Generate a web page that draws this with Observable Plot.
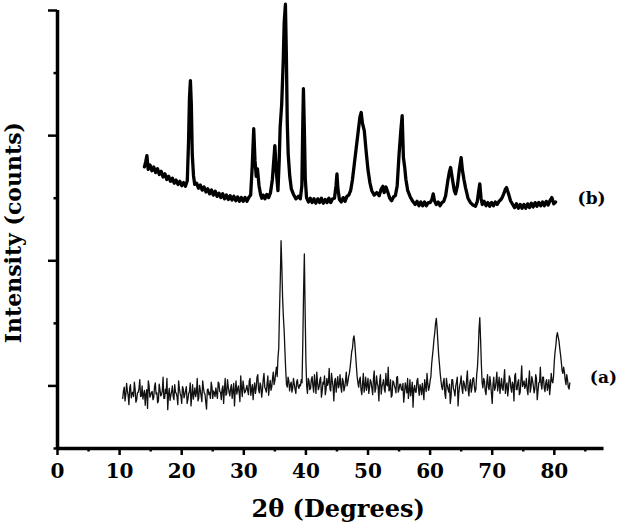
<!DOCTYPE html>
<html><head><meta charset="utf-8">
<script src="https://cdn.jsdelivr.net/npm/d3@7"></script>
<script src="https://cdn.jsdelivr.net/npm/@observablehq/plot@0.6"></script>
<style>body{margin:0;background:#fff}</style>
</head><body><div id="chart"></div>
<script>
// ---- data ----
const xMajorTicks = [0, 10, 20, 30, 40, 50, 60, 70, 80];
const xMinorTicks = [5, 15, 25, 35, 45, 55, 65, 75, 85];
const yMajorTicks = [1, 3, 5, 7];
const yMinorTicks = [0, 2, 4, 6];
const xTitle = "2θ (Degrees)";
const yTitle = "Intensity (counts)";

// trace (a): readings every 0.25° from 10.5°
const traceAStart = 10.5;
const traceAStep = 0.25;
const traceAValues = [
  0.80,0.98,0.86,0.92,0.70,1.02,0.88,0.83,0.95,0.78,0.90,1.10,0.84,0.79,0.93,0.87,0.64,1.00,0.85,0.91,
  0.82,1.05,0.89,0.76,0.94,0.86,1.14,0.80,0.88,0.62,0.96,0.85,1.00,0.78,0.90,0.83,1.08,0.88,0.72,0.95,
  0.86,0.99,0.79,0.91,0.68,1.02,0.88,0.83,1.12,0.81,0.93,0.75,0.97,0.87,0.63,0.95,0.90,1.06,0.80,0.89,
  0.97,0.80,1.04,0.90,0.95,0.72,1.12,0.88,0.98,0.84,1.02,0.92,0.68,1.08,0.94,0.89,1.16,0.83,0.99,0.91,
  1.01,0.86,1.12,0.94,0.78,1.05,0.97,1.18,0.89,1.00,0.93,1.20,0.95,1.04,0.85,1.09,0.98,1.22,1.08,1.30,
  1.45,2.20,3.32,2.40,1.88,1.25,0.98,1.08,1.02,0.90,1.12,0.95,1.06,0.99,1.02,1.10,1.70,3.11,1.40,0.88,
  1.08,0.96,1.15,0.90,1.04,1.22,0.94,1.10,0.82,1.06,1.16,0.95,1.01,1.28,0.92,1.08,0.76,1.12,1.03,0.97,
  1.18,0.90,1.08,0.98,1.22,1.06,1.20,1.42,1.60,1.80,1.50,1.15,0.98,1.14,0.86,1.20,1.00,0.93,1.12,0.98,
  1.06,0.86,1.24,0.96,1.04,0.76,1.18,0.99,1.10,0.90,1.02,1.30,0.94,0.82,1.08,1.00,0.89,1.15,0.95,1.03,
  0.93,0.74,1.05,0.89,0.80,1.10,0.94,0.66,1.01,0.90,1.12,0.85,0.97,1.04,0.78,1.00,1.20,0.93,1.08,1.35,
  1.60,1.85,2.08,1.70,1.35,1.08,0.94,1.12,0.80,1.02,0.90,0.72,1.10,0.96,0.84,1.06,0.68,1.00,1.16,0.88,
  1.04,0.92,1.24,0.84,1.10,0.98,1.13,0.90,1.18,1.55,2.09,1.35,0.97,1.08,0.86,1.18,0.94,1.04,0.72,1.14,
  0.97,1.22,1.02,0.88,1.12,0.93,1.26,1.00,0.84,1.16,0.97,1.06,0.76,1.20,0.94,1.10,0.90,1.32,1.03,0.96,
  1.12,0.86,1.24,0.98,1.08,0.89,1.18,0.78,1.05,1.30,0.95,1.14,0.91,1.10,1.00,0.86,1.20,1.05,1.40,1.65,
  1.85,1.72,1.50,1.25,1.30,1.10,1.18,0.98,1.05
];
// trace (a): readings halfway between, every 0.25° from 10.625°
const traceAMidStart = 10.625;
const traceAMidValues = [
  0.92,0.76,1.04,0.85,0.97,0.81,0.90,1.06,0.74,0.89,0.96,0.83,1.00,0.87,0.69,0.94,1.08,0.82,0.90,0.78,
  0.99,0.87,0.73,1.03,0.84,0.92,0.80,0.95,1.12,0.86,0.77,0.91,0.83,1.02,0.88,0.70,0.96,0.84,0.99,0.81,
  0.93,0.72,0.88,1.05,0.85,0.79,0.97,0.90,0.76,1.01,0.84,1.08,0.89,0.74,0.94,0.86,0.80,0.98,0.92,0.83,
  0.88,1.06,0.91,0.78,1.00,0.94,0.85,1.10,0.90,0.96,0.80,1.04,0.93,0.87,1.00,0.75,0.97,1.08,0.89,0.95,
  0.92,1.08,0.85,1.02,0.96,0.88,1.14,0.94,1.05,0.82,1.10,0.98,0.90,1.16,0.99,0.93,1.12,1.02,1.20,1.15,
  1.60,2.70,2.90,2.10,1.55,1.02,1.14,0.92,1.06,0.97,1.03,0.88,1.10,0.96,1.00,1.05,2.50,2.20,1.00,1.12,
  0.94,1.10,1.00,1.18,0.88,1.05,0.98,1.14,0.92,1.03,0.86,1.12,1.06,0.95,1.20,0.99,1.08,0.90,1.15,1.02,
  0.98,1.12,0.92,1.08,1.00,1.15,1.30,1.55,1.75,1.68,1.32,1.05,1.10,0.94,1.04,0.90,1.14,1.02,0.88,1.10,
  0.96,1.12,0.90,1.16,0.99,1.08,0.87,1.04,0.95,1.20,1.00,0.92,1.10,0.85,1.06,0.96,1.14,0.90,1.03,0.94,
  1.04,0.88,0.98,1.12,0.92,0.84,1.06,0.95,0.90,1.08,0.96,1.02,0.86,0.93,1.10,0.91,1.04,0.98,1.15,1.48,
  1.75,2.00,1.92,1.50,1.20,0.98,1.06,0.88,1.12,0.95,1.03,0.84,1.10,0.92,1.00,1.14,0.89,1.05,0.96,1.08,
  0.96,1.10,0.94,1.04,0.90,1.12,1.00,0.95,1.30,1.90,1.75,1.05,1.12,0.92,1.06,0.98,1.15,0.88,1.02,0.93,
  1.08,0.92,1.14,1.00,0.96,1.10,0.88,1.05,0.97,1.12,0.90,1.02,1.16,0.94,1.06,0.86,1.10,0.99,1.08,1.00,
  0.94,1.08,0.90,1.15,1.00,0.96,1.12,0.92,1.06,1.02,1.14,0.97,1.05,0.93,1.10,0.99,1.08,1.15,1.55,1.80,
  1.78,1.60,1.38,1.20,1.22,1.02,1.10,0.95
];

// trace (b): [2θ, intensity]
const traceB = [
  [14.0,4.50],[14.2,4.58],[14.4,4.68],[14.6,4.46],[14.9,4.53],[15.2,4.44],[15.5,4.50],[15.8,4.41],[16.1,4.47],[16.4,4.38],
  [16.7,4.43],[17.0,4.34],[17.3,4.39],[17.6,4.30],[17.9,4.35],[18.2,4.27],[18.5,4.32],[18.8,4.24],[19.1,4.29],[19.4,4.22],
  [19.7,4.27],[20.0,4.20],[20.3,4.25],[20.6,4.19],[20.9,4.28],[21.1,4.9],[21.25,5.6],[21.4,5.88],[21.55,5.5],[21.7,4.7],
  [21.9,4.36],[22.1,4.22],[22.4,4.24],[22.7,4.16],[23.0,4.21],[23.3,4.13],[23.6,4.18],[23.9,4.10],[24.2,4.15],[24.5,4.07],
  [24.8,4.13],[25.1,4.05],[25.4,4.11],[25.7,4.03],[26.0,4.08],[26.3,4.01],[26.6,4.07],[26.9,3.99],[27.2,4.05],[27.5,3.98],
  [27.8,4.04],[28.1,3.97],[28.4,4.03],[28.7,3.96],[29.0,4.02],[29.3,3.95],[29.6,4.01],[29.9,3.95],[30.2,4.01],[30.5,3.95],
  [30.8,4.01],[31.1,4.05],[31.35,4.5],[31.6,5.11],[31.8,4.6],[32.0,4.35],[32.2,4.47],[32.45,4.2],[32.7,4.06],[32.9,4.00],
  [33.1,4.05],[33.4,3.99],[33.7,4.06],[34.0,4.01],[34.3,4.09],[34.6,4.3],[35.0,4.84],[35.25,4.4],[35.5,4.12],[35.7,4.6],
  [35.85,5.13],[36.1,5.5],[36.35,6.2],[36.5,6.8],[36.7,7.1],[36.85,6.3],[37.0,5.2],[37.15,4.7],[37.4,4.35],[37.65,4.15],
  [38.0,4.06],[38.4,3.99],[38.8,4.03],[39.1,3.99],[39.35,4.2],[39.5,5.2],[39.6,5.75],[39.75,5.1],[39.9,4.3],[40.1,4.01],
  [40.4,3.94],[40.7,4.00],[41.0,3.93],[41.3,3.99],[41.6,3.92],[41.9,3.99],[42.2,3.93],[42.5,4.00],[42.8,3.92],[43.1,3.98],
  [43.4,3.93],[43.7,4.00],[44.0,3.93],[44.3,3.99],[44.6,4.00],[44.85,4.2],[45.0,4.39],[45.15,4.15],[45.4,3.98],[45.7,3.94],
  [46.0,4.01],[46.3,3.95],[46.6,4.03],[46.9,4.05],[47.2,4.12],[47.5,4.3],[47.8,4.55],[48.1,4.8],[48.4,5.05],[48.7,5.3],
  [48.9,5.37],[49.1,5.2],[49.4,5.08],[49.7,4.75],[50.0,4.45],[50.3,4.25],[50.6,4.12],[51.0,4.05],[51.4,4.09],[51.8,4.04],
  [52.1,4.14],[52.4,4.19],[52.6,4.09],[52.9,4.18],[53.2,4.09],[53.5,4.00],[53.8,3.96],[54.1,4.02],[54.4,4.04],[54.7,4.2],
  [55.0,4.7],[55.3,5.1],[55.5,5.32],[55.7,4.65],[55.9,4.5],[56.1,4.3],[56.4,4.12],[56.8,4.02],[57.2,3.95],[57.6,3.90],
  [57.9,3.95],[58.2,3.88],[58.5,3.94],[58.8,3.88],[59.1,3.94],[59.4,3.88],[59.7,3.93],[60.0,3.93],[60.3,3.98],[60.5,4.07],
  [60.7,3.96],[61.0,3.90],[61.3,3.94],[61.6,3.88],[61.9,3.93],[62.2,3.95],[62.5,4.04],[62.85,4.28],[63.1,4.42],[63.3,4.49],
  [63.6,4.3],[63.9,4.12],[64.1,4.07],[64.4,4.2],[64.7,4.45],[65.0,4.65],[65.2,4.45],[65.45,4.3],[65.7,4.17],[66.1,4.0],
  [66.5,3.93],[66.9,3.89],[67.3,3.87],[67.6,3.95],[67.8,4.1],[68.0,4.23],[68.2,4.0],[68.4,3.90],[68.7,3.95],[69.0,3.88],
  [69.3,3.93],[69.6,3.87],[69.9,3.93],[70.2,3.88],[70.5,3.94],[70.8,3.90],[71.1,3.95],[71.4,3.98],[71.6,4.01],[71.9,4.08],
  [72.1,4.14],[72.3,4.17],[72.6,4.08],[72.95,3.96],[73.3,3.90],[73.6,3.85],[73.9,3.91],[74.2,3.84],[74.5,3.90],[74.8,3.84],
  [75.1,3.90],[75.4,3.84],[75.7,3.91],[76.0,3.85],[76.3,3.92],[76.6,3.86],[76.9,3.93],[77.2,3.87],[77.5,3.93],[77.8,3.88],
  [78.1,3.94],[78.4,3.88],[78.7,3.95],[79.0,3.89],[79.3,3.96],[79.6,4.01],[79.9,3.91],[80.2,3.94]
];

const seriesLabels = [
  {label: "(b)", x: 86.0, y: 4.0},
  {label: "(a)", x: 87.9, y: 1.13}
];

// ---- build ----
const traceA = traceAValues.map((v, i) => ({x: traceAStart + i * traceAStep, y: v}))
  .concat(traceAMidValues.map((v, i) => ({x: traceAMidStart + i * traceAStep, y: v})))
  .sort((a, b) => a.x - b.x);
const serif = "DejaVu Serif";

const chart = Plot.plot({
  width: 624,
  height: 527,
  marginLeft: 57,
  marginRight: 20.5,
  marginTop: 10,
  marginBottom: 79,
  style: {background: "#fff", overflow: "visible"},
  x: {domain: [0, 88]},
  y: {domain: [0, 7]},
  marks: [
    Plot.line(traceA, {x: "x", y: "y", stroke: "#111", strokeWidth: 1.3, strokeLinejoin: "round"}),
    Plot.line(traceB, {x: d => d[0], y: d => d[1], stroke: "#000", strokeWidth: 3.3, strokeLinejoin: "round"}),
    Plot.axisX({ticks: xMajorTicks, tickSize: 7, tickFormat: () => "", label: null, strokeWidth: 2.5, stroke: "#000"}),
    Plot.axisX({ticks: xMinorTicks, tickSize: 3.5, tickFormat: () => "", label: null, strokeWidth: 2.5, stroke: "#000"}),
    Plot.axisY({ticks: yMajorTicks, tickSize: 9, tickFormat: () => "", label: null, strokeWidth: 2.5, stroke: "#000"}),
    Plot.axisY({ticks: yMinorTicks, tickSize: 3.5, tickFormat: () => "", label: null, strokeWidth: 2.5, stroke: "#000"}),
    Plot.ruleX([0], {y1: 0, y2: 7, strokeWidth: 3.5, stroke: "#000"}),
    Plot.ruleY([0], {x1: 0, x2: 88, strokeWidth: 3.5, stroke: "#000"}),
    Plot.text(xMajorTicks, {x: d => d, y: 0, dy: 23, text: d => String(d), fontSize: 20, fontFamily: serif, fontWeight: "bold", lineAnchor: "middle", fill: "#000"}),
    Plot.text([xTitle], {x: 45.2, y: 0, dy: 61, text: d => d, fontSize: 24, fontFamily: serif, fontWeight: "bold", lineAnchor: "middle", fill: "#000"}),
    Plot.text([yTitle], {x: 0, y: 3.45, dx: -44, rotate: -90, text: d => d, fontSize: 22, fontFamily: serif, fontWeight: "bold", lineAnchor: "middle", fill: "#000"}),
    Plot.text(seriesLabels, {x: "x", y: "y", text: "label", fontSize: 17, fontFamily: serif, fontWeight: "bold", lineAnchor: "middle", fill: "#000"})
  ]
});
document.getElementById("chart").appendChild(chart);
</script>
</body></html>
